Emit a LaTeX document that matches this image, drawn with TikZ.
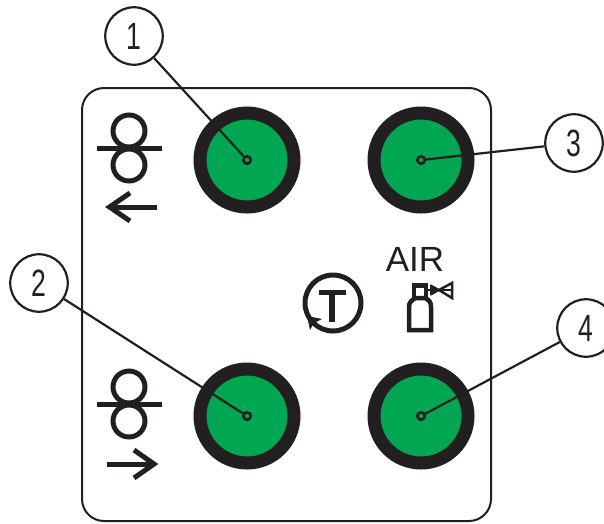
\documentclass[tikz,border=0pt]{standalone}
\usepackage{graphicx}
\usepackage{fontspec}
\setmainfont{Liberation Sans}
\definecolor{btngreen}{RGB}{0,166,81}
\definecolor{ink}{RGB}{35,31,32}
\tikzset{
  callout/.style={circle,draw=ink,line width=2.2pt,fill=white,minimum size=57.5pt,inner sep=0pt,font=\fontsize{38}{38}\selectfont,text=ink},
  button/.style={circle,draw=ink,fill=btngreen,line width=13pt,minimum size=94pt,inner sep=0pt},
  hub/.style={circle,draw=ink,line width=2.6pt,fill=none,minimum size=7.5pt,inner sep=0pt},
  leader/.style={draw=ink,line width=2.2pt},
  panel/.style={draw=ink,line width=2pt,rounded corners=22pt},
  glyph/.style={draw=ink,line width=5pt}
}
\newcommand{\narrowdigit}[1]{\scalebox{0.7}[1]{#1}}
\begin{document}
\begin{tikzpicture}[x=1pt,y=-1pt]
\useasboundingbox (0,0) rectangle (604,523);
\draw[panel] (82,88) rectangle (491,521);
% buttons
\node[button] (b1) at (247,160) {};
\node[button] (b3) at (421,160) {};
\node[button] (b2) at (247,416) {};
\node[button] (b4) at (421,416) {};
\node[hub] (h1) at (b1.center) {};
\node[hub] (h3) at (b3.center) {};
\node[hub] (h2) at (b2.center) {};
\node[hub] (h4) at (b4.center) {};
% callouts
\node[callout] (c1) at (134,36) {\narrowdigit{1}};
\node[callout] (c2) at (39,283) {\narrowdigit{2}};
\node[callout] (c3) at (574,143) {\narrowdigit{3}};
\node[callout] (c4) at (586,328) {\narrowdigit{4}};
\draw[leader] (c1) -- (h1);
\draw[leader] (c2) -- (h2);
\draw[leader] (c3) -- (h3);
\draw[leader] (c4) -- (h4);
% wire feed symbols
\draw[glyph] (129,131) circle (16);
\draw[glyph] (129,165) circle (16);
\draw[glyph] (97,148) -- (162,148);
\draw[glyph] (157,207) -- (109.5,207);
\draw[glyph,miter limit=10] (130,193) -- (109.5,207) -- (130,221);
\draw[glyph] (129,387) circle (16);
\draw[glyph] (129,421) circle (16);
\draw[glyph] (107,464) -- (154,464);
\draw[glyph] (97,404) -- (162,404);
\draw[glyph,miter limit=10] (134,450) -- (154,464) -- (134,478);
% timer symbol
\draw[glyph] (333,303) circle (28);
\draw[glyph,line width=5.5pt] (319,292.5) -- (346,292.5);
\draw[glyph,line width=6pt] (332,292.5) -- (332,322);
\fill[ink] (307,316) -- (322,319) -- (314,323) -- (310,330) -- cycle;
% air symbol
\node[text=ink,font=\fontsize{35}{35}\selectfont,inner sep=0pt] (air) at (415,259) {AIR};
\draw[glyph,line width=4.5pt,line join=miter] (409,330) -- (409,307) .. controls (409,302) and (412,300) .. (415,298) -- (425,298) .. controls (429,300) and (431,302) .. (431,307) -- (431,330) -- cycle;
\draw[glyph,line width=4.5pt] (414,298) -- (414,285.5) -- (426,285.5) -- (426,298);
\draw[glyph,line width=2.5pt] (427,290) -- (452,290);
\draw[glyph,line width=2.5pt] (431,285) -- (431,295);
\draw[glyph,line width=1pt,fill=ink] (431,285) -- (440,290) -- (431,295) -- cycle;
\draw[glyph,line width=2.5pt,line join=miter] (452,283) -- (439,290) -- (452,298) -- cycle;
\end{tikzpicture}
\end{document}
